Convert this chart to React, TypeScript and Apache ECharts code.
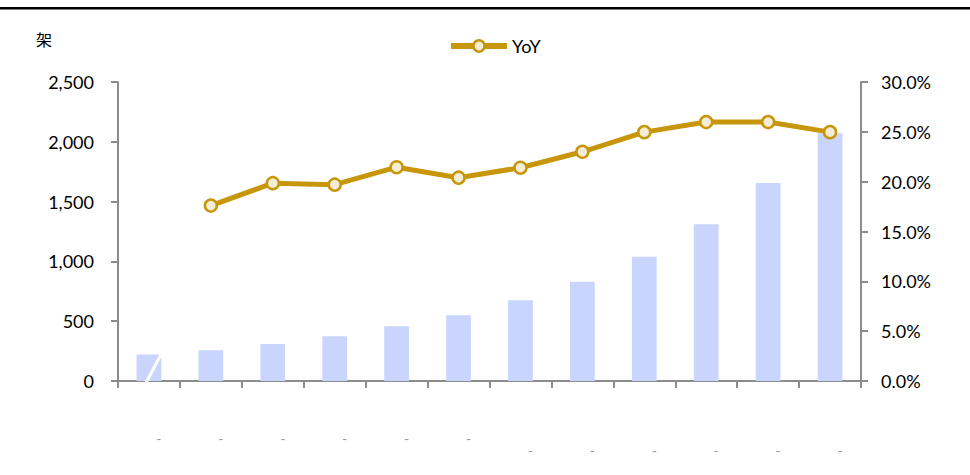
import React, { useEffect, useRef } from 'react';
import * as echarts from 'echarts';

const categories = ['-', '-', '-', '-', '-', '-', '-', '-', '-', '-', '-', '-'];
const deliveries = [221, 257, 310, 374, 458, 550, 676, 829, 1039, 1310, 1656, 2072];
const yoy = [null, 17.6, 19.85, 19.7, 21.45, 20.4, 21.4, 23.0, 24.97, 25.98, 25.98, 24.97];
const unitLabel = '架';
const legendName = 'YoY';

const FONT = 'Lato, "Liberation Sans", sans-serif';
const AXIS_GRAY = '#8c8c8c';
const GOLD = '#c8960a';
const BAR_BLUE = '#c9d5fd';

export default function App() {
  const ref = useRef<HTMLDivElement>(null);
  useEffect(() => {
    if (!ref.current) return;
    const chart = echarts.init(ref.current, null, { renderer: 'svg' });
    chart.setOption({
      animation: false,
      backgroundColor: '#ffffff',
      textStyle: { fontFamily: FONT },
      grid: { left: 118, right: 109, top: 82, bottom: 94 },
      legend: {
        data: [legendName],
        left: 448,
        top: 37,
        padding: 0,
        itemWidth: 56,
        itemHeight: 14,
        lineStyle: { width: 6, color: GOLD },
        itemStyle: { color: '#f3edd6', borderColor: GOLD, borderWidth: 2.5 },
        textStyle: { fontSize: 18, color: '#000', fontFamily: FONT },
      },
      xAxis: {
        type: 'category',
        data: categories,
        boundaryGap: true,
        axisLine: { lineStyle: { color: AXIS_GRAY, width: 2 } },
        axisTick: { show: true, length: 7, lineStyle: { color: AXIS_GRAY, width: 2 } },
        axisLabel: {
          interval: 0,
          margin: 50,
          formatter: (v: string, i: number) => (i < 6 ? '{a|' + v + '}' : '{b|' + v + '}'),
          rich: {
            a: { fontSize: 14, color: '#9a9a9a', padding: [0, 0, 0, 20] },
            b: { fontSize: 14, color: '#9a9a9a', padding: [12, 0, 0, 20] },
          },
        },
      },
      yAxis: [
        {
          type: 'value',
          min: 0,
          max: 2500,
          interval: 500,
          splitLine: { show: false },
          axisLine: { show: true, lineStyle: { color: AXIS_GRAY, width: 2 } },
          axisTick: { show: true, length: 7, lineStyle: { color: AXIS_GRAY, width: 2 } },
          axisLabel: {
            margin: 24,
            fontSize: 18,
            color: '#000',
            fontFamily: FONT,
            formatter: (v: number) => v.toLocaleString('en-US'),
          },
        },
        {
          type: 'value',
          min: 0,
          max: 30,
          interval: 5,
          position: 'right',
          splitLine: { show: false },
          axisLine: { show: true, lineStyle: { color: AXIS_GRAY, width: 2 } },
          axisTick: { show: true, length: 7, lineStyle: { color: AXIS_GRAY, width: 2 } },
          axisLabel: {
            margin: 20,
            fontSize: 18,
            color: '#000',
            fontFamily: FONT,
            formatter: (v: number) => v.toFixed(1) + '%',
          },
        },
      ],
      series: [
        {
          name: unitLabel,
          type: 'bar',
          data: deliveries,
          barWidth: '40%',
          itemStyle: { color: BAR_BLUE },
          z: 1,
        },
        {
          name: legendName,
          type: 'line',
          yAxisIndex: 1,
          data: yoy,
          symbol: 'circle',
          symbolSize: 12,
          lineStyle: { color: GOLD, width: 5 },
          itemStyle: { color: '#f3edd6', borderColor: GOLD, borderWidth: 2.5 },
          z: 3,
        },
      ],
    });
    const base = chart.convertToPixel({ xAxisIndex: 0, yAxisIndex: 0 }, [0, 0]) as number[];
    const top = chart.convertToPixel({ xAxisIndex: 0, yAxisIndex: 0 }, [0, deliveries[0]]) as number[];
    chart.setOption({
      graphic: [
        {
          type: 'rect',
          shape: { x: 0, y: 7, width: 970, height: 2.5 },
          style: { fill: '#000' },
        },
        {
          type: 'text',
          left: 36,
          top: 31,
          style: { text: unitLabel, fontSize: 16, fill: '#000', fontFamily: '"Noto Sans CJK SC", sans-serif' },
        },
        {
          type: 'line',
          shape: { x1: base[0] - 3, y1: base[1] + 2, x2: top[0] + 12, y2: top[1] },
          style: { stroke: '#ffffff', lineWidth: 3 },
          z: 10,
        },
      ],
    });
    return () => chart.dispose();
  }, []);
  return (
    <div
      ref={ref}
      style={{ position: 'fixed', left: 0, top: 0, width: 970, height: 475 }}
    />
  );
}
